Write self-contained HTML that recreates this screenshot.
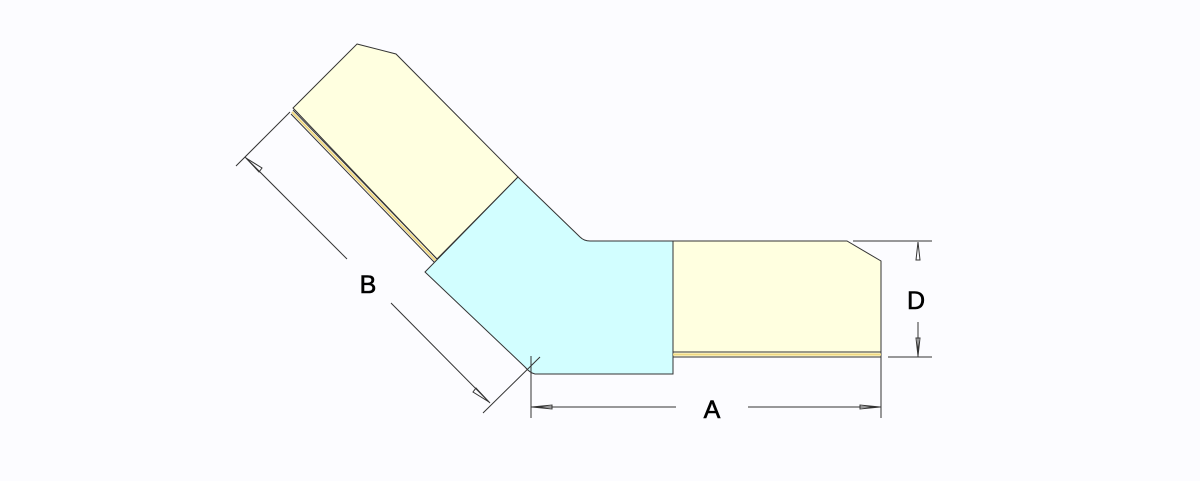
<!DOCTYPE html>
<html><head><style>body{margin:0;background:#fcfcff}svg{display:block}</style></head><body>
<svg width="1200" height="481" viewBox="0 0 1200 481" xmlns="http://www.w3.org/2000/svg">
<rect width="1200" height="481" fill="#fcfcff"/>
<!-- upper arm -->
<polygon points="357,44 396,54 518,177 437,259 293,108" fill="#ffffe0" stroke="#333" stroke-width="1"/>
<line x1="293" y1="110" x2="437" y2="259" stroke="#333" stroke-width="1"/>
<line x1="292" y1="112" x2="436" y2="261" stroke="#f0d880" stroke-width="2"/>
<line x1="291" y1="114" x2="435" y2="263" stroke="#333" stroke-width="1"/>
<!-- blue -->
<path d="M518,177 L580,237 Q584,241 590,241 L673,241 L673,374 L535,374 Q530,373 525,367 L425,272 Z" fill="#d2feff" stroke="#333" stroke-width="1"/>
<!-- right arm -->
<polygon points="673,241 847,241 881,261 881,357 673,357" fill="#ffffe0" stroke="#333" stroke-width="1"/>
<line x1="673" y1="352" x2="881" y2="352" stroke="#333" stroke-width="1"/>
<line x1="673" y1="354.5" x2="881" y2="354.5" stroke="#f0d880" stroke-width="2"/>
<g stroke="#333" stroke-width="1" fill="none">
<!-- D -->
<line x1="853" y1="241" x2="932" y2="241"/>
<line x1="888" y1="357" x2="932" y2="357"/>
<line x1="918" y1="322" x2="918" y2="357"/>
<polygon points="918,242 916,260 920,260"/>
<polygon points="918,356 916,338 920,338"/>
<!-- A -->
<line x1="881" y1="357" x2="881" y2="418"/>
<line x1="531" y1="356" x2="531" y2="418"/>
<line x1="531" y1="407" x2="676" y2="407"/>
<line x1="748" y1="407" x2="881" y2="407"/>
<polygon points="532,407 552,405 552,409"/>
<polygon points="880,407 860,405 860,409"/>
<!-- B -->
<line x1="290" y1="112" x2="236" y2="166"/>
<line x1="540" y1="357" x2="483" y2="413"/>
<line x1="245" y1="157" x2="347" y2="259"/>
<line x1="391" y1="303" x2="490" y2="403"/>
<polygon points="246,158 259,172 262,168"/>
<polygon points="489,402 476,388 473,392"/>
</g>
<g font-family="Liberation Sans, sans-serif" font-size="25" fill="#000" text-anchor="middle" stroke="#000" stroke-width="0.6">
<text x="368" y="293">B</text>
<text x="712" y="418">A</text>
<text x="916" y="309">D</text>
</g>
</svg>
</body></html>
